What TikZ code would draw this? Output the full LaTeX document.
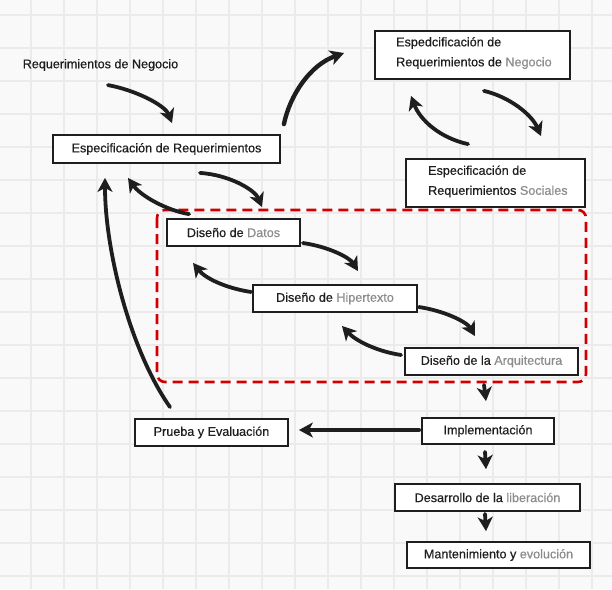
\documentclass[tikz,border=0pt]{standalone}
\usepackage{fontspec}
\setmainfont{Liberation Sans}[FakeBold=0.5]
\usetikzlibrary{arrows.meta,calc}
\definecolor{gridc}{HTML}{EBEBEB}
\definecolor{bgc}{HTML}{F9F9F9}
\definecolor{ink}{HTML}{1E1E1E}
\definecolor{soft}{HTML}{8C8C8C}
\definecolor{dashred}{HTML}{D00000}
\begin{document}
\begin{tikzpicture}[x=1pt,y=-1pt,
  box/.style={draw=ink, line width=1.8pt, fill=white, inner sep=0pt,
    font=\fontsize{12.6}{14}\selectfont, text=ink},
  lbl/.style={font=\fontsize{12.6}{20}\selectfont, text=ink, inner sep=0pt, align=left},
  arr/.style={draw=ink, line width=3.8pt, line cap=round,
    -{Stealth[length=14pt,width=15pt,inset=4pt]}},
  grp/.style={draw=dashred, line width=2.6pt, dash pattern=on 10pt off 6pt, rounded corners=8pt}
]
\useasboundingbox (0,0) rectangle (612,589);
\fill[bgc] (0,0) rectangle (612,589);
\foreach \x in {31,64,...,592} \draw[gridc, line width=1.5pt] (\x,0) -- (\x,589);
\foreach \y in {15,48,...,576} \draw[gridc, line width=1.5pt] (0,\y) -- (612,\y);

% group frame
\draw[grp] (157,210) rectangle (586,382);

% nodes
\node[lbl] (reqneg) at (100.5,65) {Requerimientos de Negocio};
\node[box, minimum width=227pt, minimum height=28pt] (spec) at (166.5,149) {Especificación de Requerimientos};
\node[box, minimum width=195pt, minimum height=48pt] (neg) at (472.5,55) {};
\node[lbl, anchor=west] (negtxt) at (396,53) {Espedcificación de\\Requerimientos de {\color{soft}Negocio}};
\node[box, minimum width=179pt, minimum height=48pt] (soc) at (495.5,183) {};
\node[lbl, anchor=west] (soctxt) at (428,181.5) {Especificación de\\Requerimientos {\color{soft}Sociales}};
\node[box, minimum width=133pt, minimum height=27pt] (datos) at (233.5,232.5) {Diseño de {\color{soft}Datos}};
\node[box, minimum width=164pt, minimum height=27pt] (hiper) at (335,298.5) {Diseño de {\color{soft}Hipertexto}};
\node[box, minimum width=173pt, minimum height=27pt] (arq) at (491.5,361.5) {Diseño de la {\color{soft}Arquitectura}};
\node[box, minimum width=153pt, minimum height=27pt] (prueba) at (211.5,432.5) {Prueba y Evaluación};
\node[box, minimum width=132pt, minimum height=26pt] (impl) at (488,431) {Implementación};
\node[box, minimum width=185pt, minimum height=27pt] (desa) at (487.5,497.5) {Desarrollo de la {\color{soft}liberación}};
\node[box, minimum width=183pt, minimum height=26pt] (mant) at (498.5,555) {Mantenimiento y {\color{soft}evolución}};

% connectors
\draw[arr] ($(spec.north)+(-58.5,-49)$) .. controls (135,90) and (165,105) .. ($(spec.north)+(5.5,-11)$);
\draw[arr, line width=4.4pt] ($(spec.north east)+(3,-10)$) .. controls (290,95) and (310,65) .. ($(neg.west)+(-30,-2)$);
\draw[arr] ($(spec.south)+(33.5,9)$) .. controls (230,175) and (255,190) .. ($(datos.north)+(28.5,-11)$);
\draw[arr] ($(datos.north west)+(23,-4)$) .. controls (165,210) and (140,195) .. ($(spec.south)+(-38.5,14)$);
\draw[arr] ($(prueba.north)+(-41.5,-11)$) .. controls (130,350) and (105,250) .. ($(spec.south)+(-61.5,14)$);
\draw[arr] ($(datos.east)+(2,10.5)$) .. controls (330,247) and (350,258) .. ($(hiper.north)+(23,-13)$);
\draw[arr] ($(hiper.west)+(-1,-6.5)$) .. controls (225,288) and (205,278) .. ($(datos.south)+(-40.5,16)$);
\draw[arr] ($(hiper.east)+(1,8.5)$) .. controls (445,311) and (467,322) .. ($(arq.north)+(-16.5,-11)$);
\draw[arr] ($(arq.west)+(-3,-6.5)$) .. controls (375,351) and (355,340) .. ($(hiper.south)+(7,13)$);
\draw[arr] ($(neg.south)+(11.5,11)$) .. controls (510,97) and (532,115) .. ($(soc.north)+(45.5,-22)$);
\draw[arr] ($(soc.north)+(-27.5,-14)$) .. controls (440,138) and (420,120) .. ($(neg.south)+(-61.5,16)$);
\draw[arr] ($(arq.south)+(-7.5,9)$) -- ($(impl.north)+(-2,-16)$);
\draw[arr] ($(impl.south)+(-3,7)$) -- ($(desa.north)+(-1.5,-14)$);
\draw[arr] ($(desa.south)+(-2.5,2)$) -- ($(mant.north)+(-12.5,-10)$);
\draw[arr] ($(impl.west)+(-2,-1)$) -- ($(prueba.east)+(10,-2.5)$);
\end{tikzpicture}
\end{document}
